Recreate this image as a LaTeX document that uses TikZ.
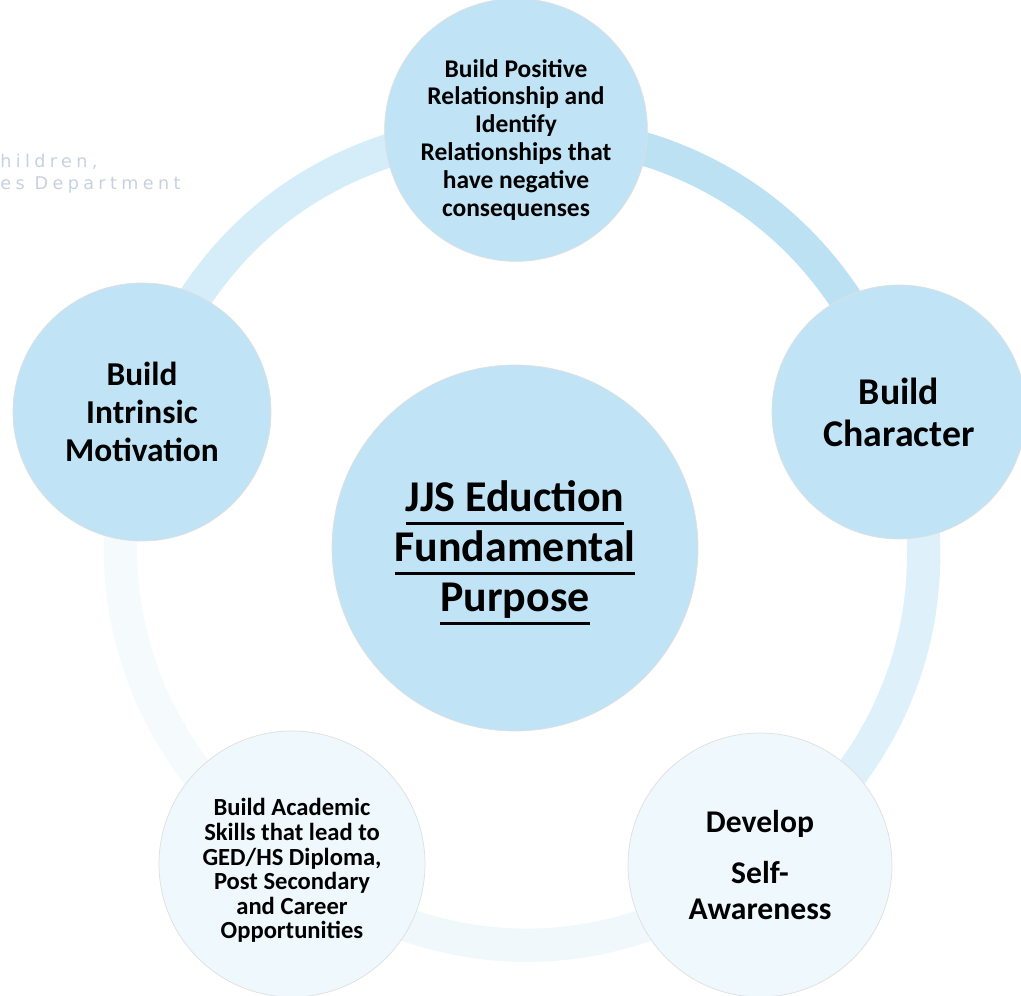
\documentclass[tikz,border=0pt]{standalone}
\usepackage{fontspec}
\setmainfont{Carlito}
\newfontfamily\ghostfont[LetterSpace=25]{DejaVu Sans}
\usetikzlibrary{backgrounds}
\definecolor{bubbleblue}{RGB}{192,228,246}
\definecolor{paleblue}{RGB}{239,248,252}
\definecolor{ringdeep}{RGB}{188,225,243}
\definecolor{ringmid}{RGB}{213,237,248}
\definecolor{ringlight}{RGB}{222,241,250}
\definecolor{ringfaint}{RGB}{240,248,252}
\definecolor{ringpale}{RGB}{245,250,253}
\definecolor{ghostgray}{RGB}{200,208,224}
\newcommand{\ulword}[1]{\setbox0\hbox{#1}\leavevmode\rlap{\rule[-7.4pt]{\wd0}{1.6pt}}\box0}
\tikzset{
    bubble/.style={circle, fill=bubbleblue, draw=gray!25, inner sep=0pt, align=center}, % the blue circles
    pale bubble/.style={bubble, fill=paleblue}, % the two faded circles at the bottom
    ring/.style={line width=19pt} % the band that joins the circles
}

\begin{document}
\begin{tikzpicture}[x=0.02cm, y=0.02cm]
    \def\px{0.02cm}
    \useasboundingbox (0,0) rectangle (1021,995);

    \node[font=\ghostfont\fontsize{10}{12.5}\selectfont, text=ghostgray, anchor=west, align=left, inner sep=0pt] (ghost) at (0,821) {hildren,\\es Department};

    % the struts on the first lines push the text a little down in its circle
    \node[bubble, minimum size=2*183*\px, font=\bfseries\fontsize{25}{28.5}\selectfont] (purpose) at (515,447)
        {\rule{0pt}{23pt}\ulword{JJS Eduction}\\\ulword{Fundamental}\\\ulword{Purpose}};
    \node[bubble, minimum size=2*127*\px, font=\bfseries\fontsize{14.5}{15.9}\selectfont] (relation) at (516,865)
        {\rule{0pt}{21.5pt}Build Positive\\Relationship and\\Identify\\Relationships that\\have negative\\consequenses};
    \node[bubble, minimum size=2*127*\px, font=\bfseries\fontsize{21.5}{23.8}\selectfont] (character) at (899,583)
        {Build\\Character};
    \node[pale bubble, minimum size=2*132*\px, font=\bfseries\fontsize{18}{21}\selectfont] (aware) at (760,130)
        {Develop\\[8pt]Self-\\Awareness};
    \node[pale bubble, minimum size=2*133*\px, font=\bfseries\fontsize{14}{14}\selectfont] (academic) at (292,131)
        {\rule{0pt}{17.5pt}Build Academic\\Skills that lead to\\GED/HS Diploma,\\Post Secondary\\and Career\\Opportunities};
    \node[bubble, minimum size=2*129*\px, font=\bfseries\fontsize{19}{21.5}\selectfont] (motivation) at (142,583)
        {Build\\Intrinsic\\Motivation};

    \begin{scope}[on background layer]
        \draw[ring, ringdeep] (relation.center) to[bend left=36] (character.center);
        \draw[ring, ringlight] (character.center) to[bend left=36] (aware.center);
        \draw[ring, ringfaint] (aware.center) to[bend left=36] (academic.center);
        \draw[ring, ringpale] (academic.center) to[bend left=36] (motivation.center);
        \draw[ring, ringmid] (motivation.center) to[bend left=36] (relation.center);
    \end{scope}
\end{tikzpicture}
\end{document}
